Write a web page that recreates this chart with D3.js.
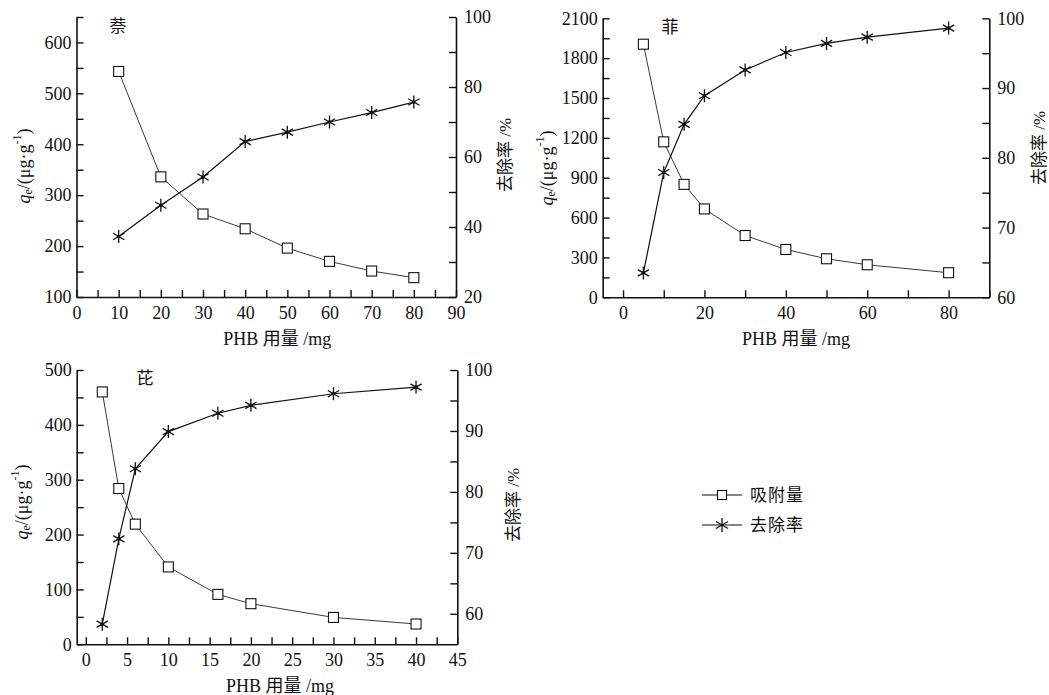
<!DOCTYPE html>
<html><head><meta charset="utf-8">
<script src="https://cdn.jsdelivr.net/npm/d3@7"></script>
<style>
html,body{margin:0;padding:0;background:#fff;}
svg{display:block;}
text{font-family:"Liberation Serif","Times New Roman","DejaVu Serif","Noto Sans CJK SC",serif;fill:#111;}
</style></head>
<body>
<svg id="chart" width="1049" height="695"></svg>
<script>
// ---- data ----
const naphDose = [10, 20, 30, 40, 50, 60, 70, 80];
const naphQe = [543, 336, 263, 234, 196, 170, 151, 138];
const naphRemoval = [37.3, 46.2, 54.3, 64.4, 67.1, 70.0, 72.7, 75.7];

const phenDose = [5, 10, 15, 20, 30, 40, 50, 60, 80];
const phenQe = [1905, 1170, 850, 665, 465, 360, 290, 245, 185];
const phenRemoval = [63.5, 77.9, 84.8, 88.9, 92.6, 95.1, 96.4, 97.3, 98.6];

const pyrDose = [2, 4, 6, 10, 16, 20, 30, 40];
const pyrQe = [460, 284, 219, 141, 91, 74, 49, 37];
const pyrRemoval = [58.3, 72.3, 83.8, 89.9, 92.9, 94.2, 96.1, 97.2];

const panelTitles = ["萘", "菲", "芘"];
const xTitle = "PHB 用量 /mg";
const rightTitle = "去除率 /%";
const legendLabels = ["吸附量", "去除率"];

// tick values
const naphXMajor = [0, 10, 20, 30, 40, 50, 60, 70, 80, 90];
const naphXMinor = [5, 15, 25, 35, 45, 55, 65, 75, 85];
const naphYMajor = [100, 200, 300, 400, 500, 600];
const naphYMinor = [150, 250, 350, 450, 550, 650];
const naphRMajor = [20, 40, 60, 80, 100];
const naphRMinor = [30, 50, 70, 90];

const phenXMajor = [0, 20, 40, 60, 80];
const phenXMinor = [10, 30, 50, 70, 90];
const phenYMajor = [0, 300, 600, 900, 1200, 1500, 1800, 2100];
const phenYMinor = [150, 450, 750, 1050, 1350, 1650, 1950];
const phenRMajor = [60, 70, 80, 90, 100];
const phenRMinor = [65, 75, 85, 95];

const pyrXMajor = [0, 5, 10, 15, 20, 25, 30, 35, 40, 45];
const pyrXMinor = [2.5, 7.5, 12.5, 17.5, 22.5, 27.5, 32.5, 37.5, 42.5];
const pyrYMajor = [0, 100, 200, 300, 400, 500];
const pyrYMinor = [50, 150, 250, 350, 450];
const pyrRMajor = [60, 70, 80, 90, 100];
const pyrRMinor = [65, 75, 85, 95];

const svg = d3.select("#chart");
const TICK = 7;
const NUMFONT = "'Liberation Serif','Times New Roman','DejaVu Serif',serif";

function starPath(r) {
  const a = Math.PI / 6;
  const cx = r * Math.cos(a), cy = r * Math.sin(a);
  return `M0,${-r}L0,${r}M${-cx},${-cy}L${cx},${cy}M${-cx},${cy}L${cx},${-cy}`;
}

function drawPanel(p) {
  const g = svg.append("g");
  const x = d3.scaleLinear().domain(p.xDomain).range([p.left, p.right]);
  const y = d3.scaleLinear().domain(p.yDomain).range([p.bottom, p.top]);
  const r = d3.scaleLinear().domain(p.rDomain).range([p.bottom, p.top]);

  function axisStyle(sel) {
    sel.attr("font-family", NUMFONT);
    sel.selectAll("path.domain").attr("stroke", "#111").attr("stroke-width", 1.6);
    sel.selectAll(".tick line").attr("stroke", "#111").attr("stroke-width", 1.4);
    sel.selectAll("text").attr("font-size", 18).style("font-family", NUMFONT).attr("fill", "#111");
  }
  // bottom axis
  const bx = g.append("g").attr("transform", `translate(0,${p.bottom})`)
    .call(d3.axisBottom(x).tickValues(p.xMajor).tickSize(-TICK).tickSizeOuter(0).tickPadding(6).tickFormat(d3.format("d")));
  g.append("g").attr("transform", `translate(0,${p.bottom})`)
    .call(d3.axisBottom(x).tickValues(p.xMinor).tickSize(-TICK).tickSizeOuter(0).tickFormat(""))
    .call(s => s.select("path.domain").remove()).call(axisStyle);
  axisStyle(bx);
  bx.selectAll("text").attr("dy", "0.9em").attr("y", 6);
  // left axis
  const ly = g.append("g").attr("transform", `translate(${p.left},0)`)
    .call(d3.axisLeft(y).tickValues(p.yMajor).tickSize(-TICK).tickSizeOuter(0).tickPadding(5).tickFormat(d3.format("d")));
  g.append("g").attr("transform", `translate(${p.left},0)`)
    .call(d3.axisLeft(y).tickValues(p.yMinor).tickSize(-TICK).tickSizeOuter(0).tickFormat(""))
    .call(s => s.select("path.domain").remove()).call(axisStyle);
  axisStyle(ly);
  // right axis
  const ry = g.append("g").attr("transform", `translate(${p.right},0)`)
    .call(d3.axisRight(r).tickValues(p.rMajor).tickSize(-TICK).tickSizeOuter(0).tickPadding(8).tickFormat(d3.format("d")));
  g.append("g").attr("transform", `translate(${p.right},0)`)
    .call(d3.axisRight(r).tickValues(p.rMinor).tickSize(-TICK).tickSizeOuter(0).tickFormat(""))
    .call(s => s.select("path.domain").remove()).call(axisStyle);
  axisStyle(ry);

  // lines
  const qeData = p.dose.map((d, i) => [d, p.qe[i]]);
  const rmData = p.dose.map((d, i) => [d, p.rm[i]]);
  g.append("path").datum(qeData)
    .attr("d", d3.line().x(d => x(d[0])).y(d => y(d[1])))
    .attr("fill", "none").attr("stroke", "#222").attr("stroke-width", 0.9);
  g.append("path").datum(rmData)
    .attr("d", d3.line().x(d => x(d[0])).y(d => r(d[1])))
    .attr("fill", "none").attr("stroke", "#111").attr("stroke-width", 1.2);
  // squares
  g.selectAll("rect.sq").data(qeData).join("rect").attr("class", "sq")
    .attr("x", d => x(d[0]) - 5).attr("y", d => y(d[1]) - 5)
    .attr("width", 10).attr("height", 10)
    .attr("fill", "#fff").attr("stroke", "#111").attr("stroke-width", 1.1);
  // stars
  const st = g.selectAll("g.st").data(rmData).join("g").attr("class", "st")
    .attr("transform", d => `translate(${x(d[0])},${r(d[1])})`);
  st.append("path").attr("d", starPath(6.5)).attr("stroke", "#111").attr("stroke-width", 1.3).attr("fill", "none");
  st.append("circle").attr("r", 1.8).attr("fill", "#111");

  // titles
  g.append("text").attr("x", p.titlePos[0]).attr("y", p.titlePos[1])
    .attr("text-anchor", "middle").attr("dominant-baseline", "central")
    .attr("font-size", 17).text(p.title);
  g.append("text").attr("x", (p.left + p.right) / 2 + p.xTitleDx).attr("y", p.bottom + 48)
    .attr("text-anchor", "middle").attr("font-size", 18).text(xTitle);
  // left title
  const lt = g.append("text")
    .attr("transform", `translate(${p.leftTitle[0]},${p.leftTitle[1]}) rotate(-90)`)
    .attr("text-anchor", "middle").attr("dominant-baseline", "central").attr("font-size", 18);
  lt.append("tspan").attr("font-style", "italic").text("q");
  lt.append("tspan").attr("font-size", 12).attr("dy", 4).text("e");
  lt.append("tspan").attr("dy", -4).text("/(μg·g");
  lt.append("tspan").attr("font-size", 12).attr("dy", -7).text("-1");
  lt.append("tspan").attr("dy", 7).text(")");
  g.append("text")
    .attr("transform", `translate(${p.rightTitle[0]},${p.rightTitle[1]}) rotate(-90)`)
    .attr("text-anchor", "middle").attr("dominant-baseline", "central").attr("font-size", 17)
    .text(rightTitle);
}

drawPanel({
  dose: naphDose, qe: naphQe, rm: naphRemoval,
  xDomain: [0, 90], yDomain: [100, 650], rDomain: [20, 100],
  left: 76.5, right: 456, top: 17, bottom: 297,
  xMajor: naphXMajor, xMinor: naphXMinor, yMajor: naphYMajor, yMinor: naphYMinor,
  rMajor: naphRMajor, rMinor: naphRMinor,
  title: panelTitles[0], titlePos: [118, 26], xTitleDx: 11,
  leftTitle: [24, 166], rightTitle: [505, 155]
});
drawPanel({
  dose: phenDose, qe: phenQe, rm: phenRemoval,
  xDomain: [-5, 90], yDomain: [0, 2100], rDomain: [60, 100],
  left: 602.7, right: 989.3, top: 18.3, bottom: 297.3,
  xMajor: phenXMajor, xMinor: phenXMinor, yMajor: phenYMajor, yMinor: phenYMinor,
  rMajor: phenRMajor, rMinor: phenRMinor,
  title: panelTitles[1], titlePos: [670, 27], xTitleDx: 0,
  leftTitle: [547, 168], rightTitle: [1039, 148]
});
drawPanel({
  dose: pyrDose, qe: pyrQe, rm: pyrRemoval,
  xDomain: [-1.1, 45], yDomain: [0, 500], rDomain: [55, 100],
  left: 76.7, right: 457.3, top: 370, bottom: 644.3,
  xMajor: pyrXMajor, xMinor: pyrXMinor, yMajor: pyrYMajor, yMinor: pyrYMinor,
  rMajor: pyrRMajor, rMinor: pyrRMinor,
  title: panelTitles[2], titlePos: [145, 378], xTitleDx: 13,
  leftTitle: [22, 502], rightTitle: [513, 505]
});

// legend
const lg = svg.append("g");
const legendRows = [495, 525];
legendLabels.forEach((lab, i) => {
  const yy = legendRows[i];
  lg.append("line").attr("x1", 702).attr("x2", 742).attr("y1", yy).attr("y2", yy)
    .attr("stroke", "#111").attr("stroke-width", 1.1);
  if (i === 0) {
    lg.append("rect").attr("x", 722 - 4.5).attr("y", yy - 4.5).attr("width", 9).attr("height", 9)
      .attr("fill", "#fff").attr("stroke", "#111").attr("stroke-width", 1.1);
  } else {
    lg.append("path").attr("transform", `translate(722,${yy})`).attr("d", starPath(7))
      .attr("stroke", "#111").attr("stroke-width", 1.3).attr("fill", "none");
  }
  lg.append("text").attr("x", 750).attr("y", yy).attr("dominant-baseline", "central")
    .attr("font-size", 17).attr("letter-spacing", 1).text(lab);
});
</script>
</body></html>
